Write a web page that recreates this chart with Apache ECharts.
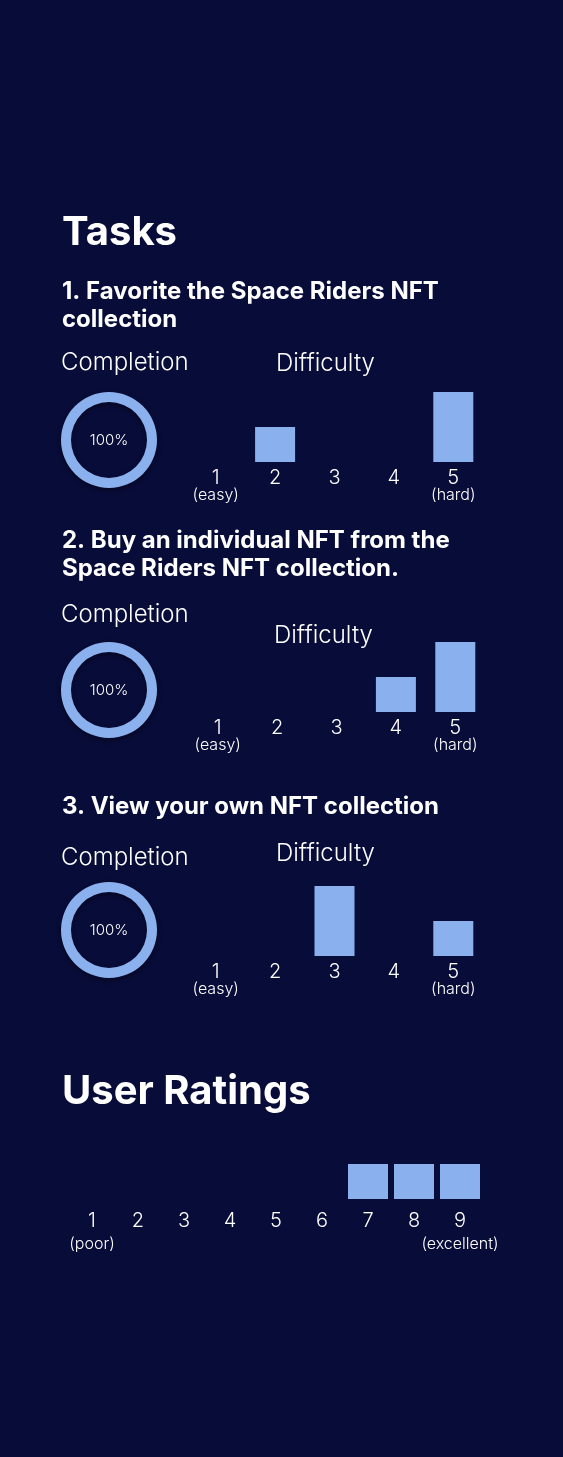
<!DOCTYPE html>
<html>
<head>
<meta charset="utf-8">
<script src="https://cdn.jsdelivr.net/npm/echarts@6/dist/echarts.min.js"></script>
<style>
  html, body { margin: 0; padding: 0; background: #080c38; }
  #chart { width: 563px; height: 1457px; }
</style>
</head>
<body>
<div id="chart"></div>
<script>
// --- data ---
const taskTitles = [
    "1. Favorite the Space Riders NFT\ncollection",
    "2. Buy an individual NFT from the\nSpace Riders NFT collection.",
    "3. View your own NFT collection"
];
const completion = [100, 100, 100];
const difficultyLevels = ["1", "2", "3", "4", "5"];
const difficultyNotes = { "1": "(easy)", "5": "(hard)" };
const difficultyVotes = [
    [0, 1, 0, 0, 2],
    [0, 0, 0, 1, 2],
    [0, 0, 2, 0, 1]
];
const ratingLevels = ["1", "2", "3", "4", "5", "6", "7", "8", "9"];
const ratingNotes = { "1": "(poor)", "9": "(excellent)" };
const ratingVotes = [0, 0, 0, 0, 0, 0, 1, 1, 1];

// --- look ---
const BG = "#080c38";
const BAR = "#8ab1ee";
const FONT = "Inter, 'Noto Sans', sans-serif";

// per-block layout
const blocks = [
    { title: 278, comp: 351, diff: 352, diffX: 276, grid: 392, gridX: 186, donutY: 440 },
    { title: 527, comp: 603, diff: 624, diffX: 274, grid: 642, gridX: 188, donutY: 690 },
    { title: 793, comp: 846, diff: 842, diffX: 276, grid: 886, gridX: 186, donutY: 930 }
];

function labelWith(notes) {
    return v => notes[v] ? `{n|${v}}\n{s|${notes[v]}}` : `{n|${v}}`;
}

function text(t, left, top, size, weight, lh) {
    return {
        text: t, left: left, top: top, padding: 0,
        textStyle: { color: "#fff", fontFamily: FONT, fontSize: size, fontWeight: weight, lineHeight: lh || size }
    };
}

const titles = [
    text("Tasks", 62, 213, 40, "bold"),
    text("User Ratings", 62, 1072, 40, "bold")
];
const grids = [], xAxes = [], yAxes = [], series = [];

blocks.forEach((b, i) => {
    titles.push(
        text(taskTitles[i], 62, b.title, 24, "bold", 28),
        text("Completion", 61, b.comp, 24, 300),
        text("Difficulty", b.diffX, b.diff, 24, 300)
    );

    grids.push({ left: b.gridX, top: b.grid, width: 297, height: 70 });
    xAxes.push({
        type: "category", gridIndex: i, data: difficultyLevels,
        axisLine: { show: false }, axisTick: { show: false },
        axisLabel: {
            interval: 0, margin: 6, color: "#fff", fontFamily: FONT,
            formatter: labelWith(difficultyNotes),
            rich: {
                n: { fontSize: 20, lineHeight: 20, fontWeight: 300, color: "#fff", fontFamily: FONT },
                s: { fontSize: 16, lineHeight: 15, fontWeight: 300, color: "#fff", fontFamily: FONT }
            }
        }
    });
    yAxes.push({ type: "value", gridIndex: i, min: 0, max: 2, show: false });
    series.push({
        type: "bar", xAxisIndex: i, yAxisIndex: i, barWidth: 40,
        data: difficultyVotes[i], itemStyle: { color: BAR }, silent: true
    });

    series.push({
        type: "pie", center: [109, b.donutY], radius: [38, 48],
        silent: true, avoidLabelOverlap: false, startAngle: 90,
        itemStyle: { color: BAR, shadowBlur: 5, shadowOffsetY: 2, shadowColor: "rgba(0,0,0,0.45)" },
        label: {
            show: true, position: "center", formatter: "{c}%",
            color: "#fff", fontFamily: FONT, fontSize: 15, fontWeight: 300
        },
        labelLine: { show: false },
        data: [{ value: completion[i], name: "done" }]
    });
});

// user ratings
grids.push({ left: 69, top: 1129, width: 414, height: 70 });
xAxes.push({
    type: "category", gridIndex: 3, data: ratingLevels,
    axisLine: { show: false }, axisTick: { show: false },
    axisLabel: {
        interval: 0, margin: 12, color: "#fff", fontFamily: FONT,
        formatter: labelWith(ratingNotes),
        rich: {
            n: { fontSize: 20, lineHeight: 20, fontWeight: 300, color: "#fff", fontFamily: FONT },
            s: { fontSize: 16, lineHeight: 26, fontWeight: 300, color: "#fff", fontFamily: FONT }
        }
    }
});
yAxes.push({ type: "value", gridIndex: 3, min: 0, max: 2, show: false });
series.push({
    type: "bar", xAxisIndex: 3, yAxisIndex: 3, barWidth: 40,
    data: ratingVotes, itemStyle: { color: BAR }, silent: true
});

const chart = echarts.init(document.getElementById("chart"), null, { renderer: "canvas" });
chart.setOption({
    backgroundColor: BG,
    animation: false,
    title: titles,
    grid: grids,
    xAxis: xAxes,
    yAxis: yAxes,
    series: series
});
</script>
</body>
</html>
